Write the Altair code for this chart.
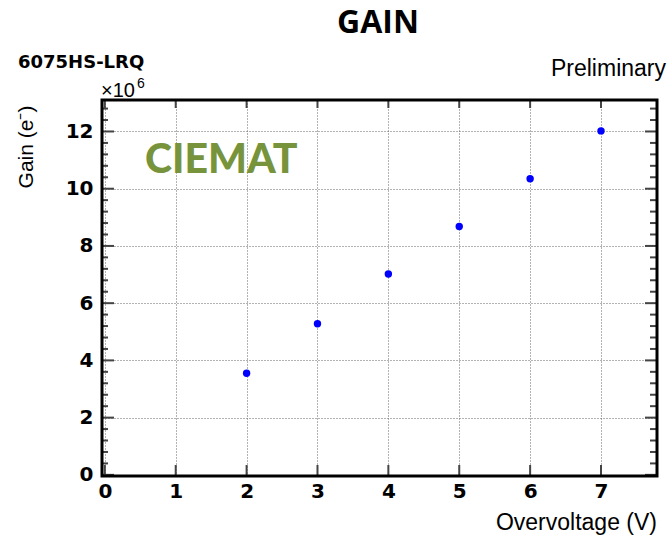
import altair as alt
import numpy as np
import pandas as pd

# Measured gain vs overvoltage for the 6075HS-LRQ SiPM
overvoltage = [2, 3, 4, 5, 6, 7]
gain_1e6 = [3.55, 5.28, 7.02, 8.68, 10.35, 12.02]

x_major = [0, 1, 2, 3, 4, 5, 6, 7]
y_major = [0, 2, 4, 6, 8, 10, 12]

X_DOMAIN = [-0.04, 7.79]
Y_DOMAIN = [-0.04, 13.1]
W, H = 555, 376

points = pd.DataFrame({"ov": overvoltage, "gain": gain_1e6})
y_minor = pd.DataFrame({"v": [v for v in np.round(np.arange(0, 13.01, 0.4), 2) if v % 2 != 0]})
y_maj = pd.DataFrame({"v": y_major})
x_maj = pd.DataFrame({"v": x_major})

xs = alt.Scale(domain=X_DOMAIN, nice=False, zero=False)
ys = alt.Scale(domain=Y_DOMAIN, nice=False, zero=False)

common = dict(title=None, grid=True, gridDash=[1, 2], gridColor="#666", gridWidth=1,
              domain=False, ticks=False, labelFont="DejaVu Sans", labelFontWeight="bold",
              labelFontSize=20, labelColor="#000", format=".0f")
x_axis = alt.Axis(values=x_major, labelPadding=5, **common)
y_axis = alt.Axis(values=y_major, labelPadding=9, **common)

pts = alt.Chart(points).mark_circle(size=55, color="#0000ff", opacity=1).encode(
    x=alt.X("ov:Q", scale=xs, axis=x_axis),
    y=alt.Y("gain:Q", scale=ys, axis=y_axis),
)

TICK = "#444"

def yticks(df, x0, x1):
    return alt.Chart(df).mark_rule(color=TICK, strokeWidth=2).encode(
        y=alt.Y("v:Q", scale=ys), x=alt.value(x0), x2=alt.value(x1))

def xticks(df, y0, y1):
    return alt.Chart(df).mark_rule(color=TICK, strokeWidth=2).encode(
        x=alt.X("v:Q", scale=xs), y=alt.value(y0), y2=alt.value(y1))

ticks = [
    yticks(y_maj, 0, 12), yticks(y_minor, 0, 6),
    yticks(y_maj, W, W - 12), yticks(y_minor, W, W - 7),
    xticks(x_maj, H, H - 11), xticks(x_maj, 0, 8),
]

# plot frame
frame = alt.Chart(pd.DataFrame({"k": [0]})).mark_rect(
    fill=None, fillOpacity=0, stroke="#000", strokeWidth=3
).encode(x=alt.value(0), x2=alt.value(W), y=alt.value(0), y2=alt.value(H))

def label(text, x, y, size, font="Liberation Sans", weight="normal", color="#000",
          align="left", baseline="alphabetic", angle=0):
    return alt.Chart(pd.DataFrame({"t": [text]})).mark_text(
        text=text, font=font, fontSize=size, fontWeight=weight, color=color,
        align=align, baseline=baseline, angle=angle,
    ).encode(x=alt.value(x), y=alt.value(y))

texts = [
    label("GAIN", 276, -67, 32, font="Open Sans", weight="bold", align="center"),
    label("6075HS-LRQ", -84, -32, 18, font="DejaVu Sans", weight="bold"),
    label("Preliminary", 564, -24, 23, align="right"),
    label("×10", -1, -3, 20),
    label("6", 35, -12, 14),
    label("CIEMAT", 43, 73, 41, font="Lato", weight=900, color="#77933C"),
    label("Overvoltage (V)", W, 430, 23, align="right"),
    label("Gain (e⁻)", -75, 47, 21, align="center", baseline="middle", angle=270),
]

chart = alt.layer(pts, *ticks, frame, *texts).properties(
    width=W, height=H,
    autosize=alt.AutoSizeParams(type="none"),
    padding={"left": 102, "top": 100, "right": 11, "bottom": 59},
).configure_view(stroke=None).configure(background="white")

chart.save("out.html", embed_options={"renderer": "svg", "actions": False})
